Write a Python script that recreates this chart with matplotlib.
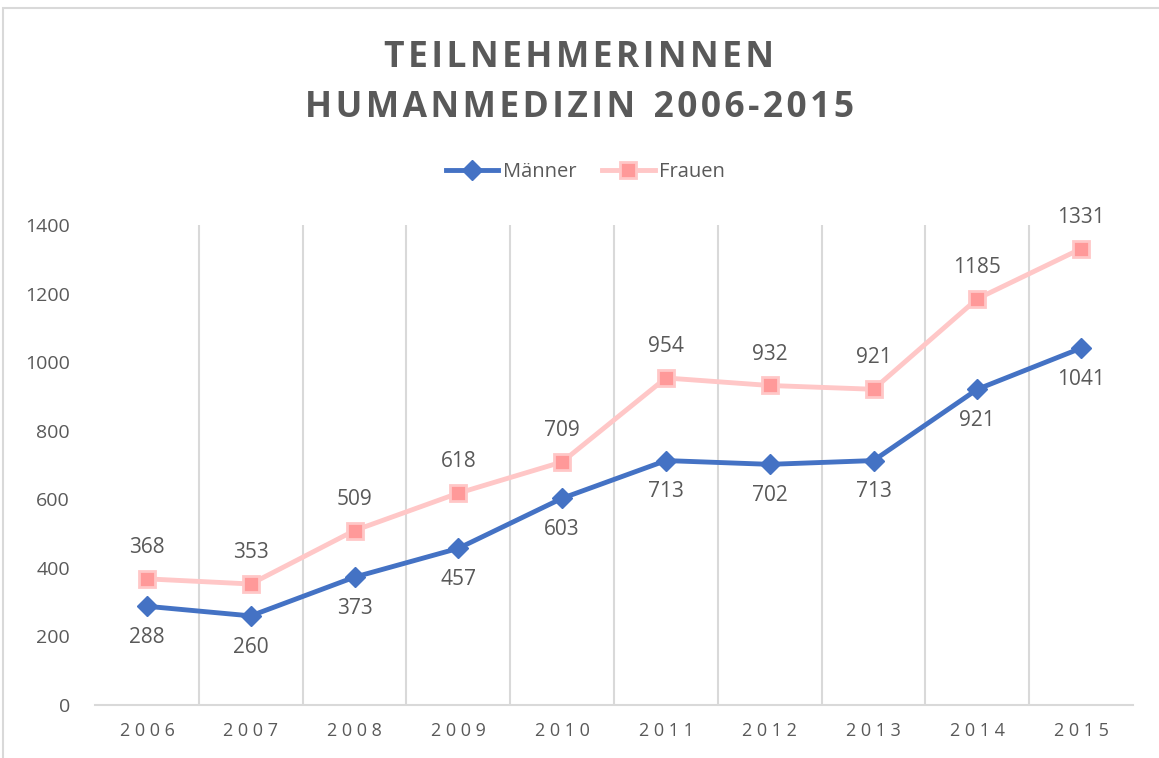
import matplotlib.pyplot as plt
from matplotlib.patches import Rectangle

years = ["2006", "2007", "2008", "2009", "2010", "2011", "2012", "2013", "2014", "2015"]
maenner = [288, 260, 373, 457, 603, 713, 702, 713, 921, 1041]
frauen = [368, 353, 509, 618, 709, 954, 932, 921, 1185, 1331]

grey = '#595959'
plt.rcParams['font.family'] = ['Open Sans', 'DejaVu Sans']

fig = plt.figure(figsize=(11.59, 7.58), dpi=100)
ax = fig.add_axes([0.082, 0.0699, 0.8956, 0.6332])

x = range(len(years))
ax.plot(x, maenner, color='#4472C4', lw=3.5, marker='D', ms=10, mfc='#4472C4', mec='#4472C4',
        label='Männer', zorder=4)
ax.plot(x, frauen, color='#FFC7C7', lw=3.5, marker='s', ms=11, mfc='#FF9999', mec='#FFC7C7',
        mew=2, label='Frauen', zorder=3)

for i in x:
    ax.annotate(str(frauen[i]), (i, frauen[i]), xytext=(0, 15), textcoords='offset points',
                ha='center', va='bottom', fontsize=15, color=grey)
    ax.annotate(str(maenner[i]), (i, maenner[i]), xytext=(0, -15), textcoords='offset points',
                ha='center', va='top', fontsize=15, color=grey)

ax.set_xlim(-0.5, len(years) - 0.5)
ax.set_ylim(0, 1400)
ax.set_yticks(range(0, 1401, 200))
ax.set_xticks(list(x))
ax.set_xticklabels([" ".join(y) for y in years])
ax.tick_params(axis='both', length=0, labelsize=14, colors=grey)
ax.tick_params(axis='x', pad=12, labelsize=13)
ax.tick_params(axis='y', pad=18)
for b in [i + 0.5 for i in range(len(years) - 1)]:
    ax.axvline(b, color='#D9D9D9', lw=1.5, zorder=1)
for s in ['top', 'right', 'left']:
    ax.spines[s].set_visible(False)
ax.spines['bottom'].set_color('#D9D9D9')
ax.spines['bottom'].set_linewidth(1.5)

hs = "\u200a"
t1 = hs.join("TEILNEHMERINNEN")
t2 = hs.join("HUMANMEDIZIN") + "  " + hs.join("2006-2015")
fig.text(0.5, 0.924, t1, ha='center', va='center', fontsize=25.5, fontweight='bold', color=grey)
fig.text(0.5, 0.858, t2, ha='center', va='center', fontsize=25.5, fontweight='bold', color=grey)

fig.legend(loc='center', bbox_to_anchor=(0.505, 0.773), ncol=2, frameon=False, fontsize=14.5,
           labelcolor=grey, handlelength=2.6, columnspacing=1.3, handletextpad=0.2)

fig.patches.append(Rectangle((0.003, -0.01), 1.1, 1.0, transform=fig.transFigure,
                             fill=False, edgecolor='#D9D9D9', lw=1.5))

plt.savefig("out.png", dpi=100)
